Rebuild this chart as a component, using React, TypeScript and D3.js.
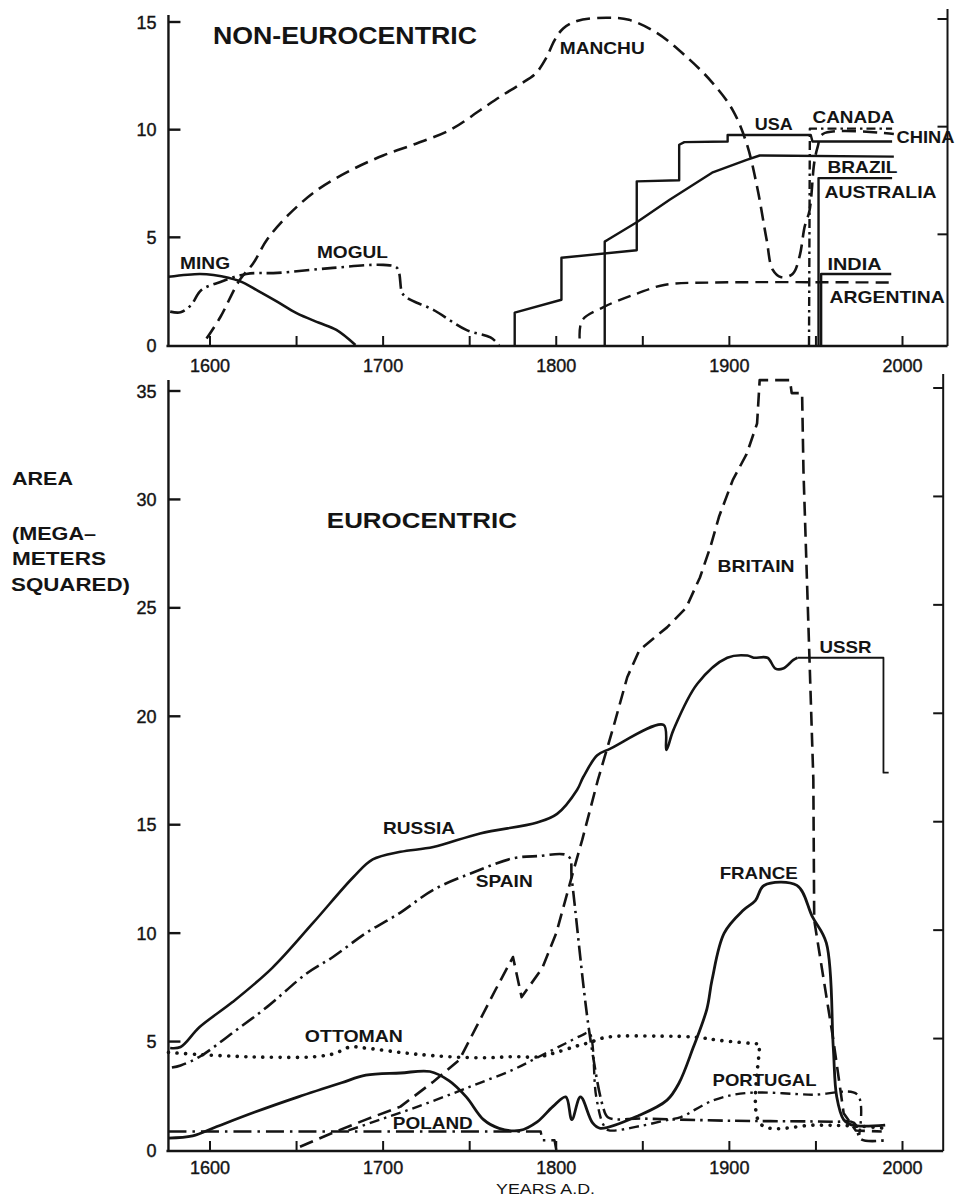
import * as d3 from 'd3';

type Pt = [number, number];

// ---------- upper panel: non-eurocentric empires (Mm²) ----------
const ming: Pt[] = [[1576, 3.17], [1594, 3.3], [1602, 3.25], [1617, 2.97], [1628, 2.5], [1639, 2.0], [1650, 1.48], [1663, 1.03], [1673, 0.7], [1684, 0]];
const mogul: Pt[] = [[1577, 1.55], [1583, 1.52], [1589, 1.85], [1595, 2.55], [1606, 2.93], [1621, 3.3], [1639, 3.35], [1671, 3.58], [1700, 3.72], [1708, 3.58], [1711, 2.42], [1714, 2.18], [1729, 1.63], [1748, 0.7], [1762, 0.35], [1767, 0]];
const manchuChina: Pt[] = [[1598, 0.3], [1606, 1.3], [1617, 3.0], [1625, 3.8], [1633, 4.9], [1646, 6.1], [1662, 7.2], [1681, 8.1], [1700, 8.8], [1719, 9.35], [1739, 10.0], [1756, 10.9], [1767, 11.5], [1779, 12.1], [1788, 12.6], [1794, 13.3], [1799, 14.15], [1804, 14.7], [1812, 15.05], [1829, 15.2], [1842, 15.1], [1858, 14.5], [1875, 13.4], [1890, 12.2], [1902, 10.9], [1910, 9.35], [1916, 7.35], [1921.5, 4.9], [1925, 3.5], [1930, 3.15], [1936.5, 3.3], [1940.5, 4.1], [1943.5, 5.5], [1946.3, 6.25], [1949, 8.45], [1951, 9.2], [1954, 9.8], [1995, 9.8]];
const usa: Pt[] = [[1776, 0], [1776, 1.5], [1803, 2.1], [1803, 4.05], [1846.5, 4.4], [1846.5, 7.6], [1871, 7.65], [1871, 9.3], [1874, 9.42], [1899, 9.45], [1899, 9.75], [1947, 9.75], [1948, 9.45], [1994, 9.45]];
const brazil: Pt[] = [[1828, 0], [1828, 4.8], [1830, 4.9], [1846.5, 5.7], [1865.5, 6.75], [1890, 8.0], [1910, 8.6], [1917.5, 8.8], [1995, 8.75]];
const canada: Pt[] = [[1946, 0], [1946.5, 10.05], [1994, 10.05]];
const australia: Pt[] = [[1951.5, 0], [1951.5, 7.75], [1994, 7.75]];
const india: Pt[] = [[1953, 0], [1953, 3.3], [1993.5, 3.3]];
const argentina: Pt[] = [[1813.5, 0.3], [1815, 1.15], [1827, 1.75], [1847, 2.4], [1863, 2.8], [1890, 2.9], [1993.5, 2.9]];

// ---------- lower panel: eurocentric empires (Mm²) ----------
const russia: Pt[] = [[1577, 4.7], [1583, 4.75], [1594, 5.67], [1613, 6.82], [1636, 8.4], [1659.5, 10.47], [1683, 12.6], [1694, 13.4], [1710, 13.75], [1729, 13.97], [1756, 14.6], [1789, 15.1], [1800.5, 15.5], [1812, 16.6], [1815.6, 17.2], [1823.7, 18.2], [1831, 18.5], [1862, 19.6], [1863.6, 18.45], [1867.6, 19.35], [1881.5, 21.5], [1898.8, 22.7], [1910.4, 22.8], [1914, 22.7], [1922, 22.7], [1926.6, 22.2], [1931, 22.2], [1937, 22.6], [1939.3, 22.7]];
const ussr: Pt[] = [[1939.3, 22.7], [1989, 22.7], [1989, 17.4], [1992, 17.4]];
const britain: Pt[] = [[1652, 0.15], [1671, 0.8], [1690, 1.4], [1710, 2.0], [1729, 3.15], [1744, 4.15], [1754, 5.7], [1765, 7.4], [1775, 8.9], [1780, 7.05], [1792, 8.4], [1800, 10.0], [1810, 12.9], [1815, 14.3], [1824, 17.05], [1833, 19.5], [1841, 21.8], [1848, 23.05], [1864, 24.1], [1875, 25.0], [1883, 26.4], [1889, 27.8], [1894, 29.2], [1902, 30.9], [1910, 32.1], [1916, 33.5], [1917.5, 35.5], [1935, 35.5], [1936, 34.9], [1942, 34.9], [1942.8, 31.3], [1948.5, 17.1], [1949, 10.6], [1960, 5.1], [1966, 1.7], [1973, 0.9], [1988, 0.85]];
const spain: Pt[] = [[1578, 3.8], [1583, 3.9], [1594, 4.3], [1613, 5.4], [1633, 6.6], [1656, 8.15], [1671, 8.9], [1690, 10.0], [1710, 10.95], [1729, 12.0], [1752, 12.8], [1775, 13.45], [1789, 13.55], [1807, 13.55], [1809, 12.45], [1819, 5.5], [1827, 2.0], [1830, 1.5], [1850, 1.45], [1900, 1.35], [1960, 1.3], [1972, 1.25], [1976, 0.5], [1990, 0.45]];
const ottoman: Pt[] = [[1576, 4.5], [1594, 4.4], [1615, 4.32], [1633, 4.28], [1660, 4.3], [1672, 4.45], [1681, 4.75], [1690, 4.7], [1710, 4.5], [1729, 4.35], [1756, 4.25], [1775, 4.3], [1790, 4.3], [1800, 4.5], [1812, 4.8], [1819, 4.95], [1829, 5.2], [1860, 5.25], [1881, 5.2], [1895, 5.05], [1916, 4.9], [1917, 4.9], [1918, 1.2], [1950, 1.15], [1975, 1.1], [1990, 1.0]];
const france: Pt[] = [[1576, 0.55], [1590, 0.65], [1603, 1.05], [1626, 1.75], [1651, 2.45], [1676, 3.1], [1690, 3.45], [1710, 3.55], [1727, 3.62], [1738, 3.2], [1748, 2.45], [1758, 1.4], [1767, 1.0], [1779, 0.9], [1789, 1.3], [1798, 2.0], [1805.5, 2.45], [1809, 1.4], [1814, 2.45], [1821, 1.25], [1825.5, 1.0], [1848, 1.6], [1864, 2.3], [1871, 3.1], [1879, 4.7], [1887, 6.5], [1890, 7.85], [1897, 10.0], [1908, 11.05], [1915, 11.5], [1920, 12.2], [1939, 12.2], [1948, 10.75], [1956, 9.55], [1960, 4.75], [1962, 2.45], [1966, 1.4], [1971, 1.15], [1990, 1.15]];
const poland: Pt[] = [[1576, 0.85], [1791, 0.85], [1792, 0.45], [1799, 0.45], [1800, 0]];
const portugal: Pt[] = [[1680, 0.9], [1700, 1.45], [1720, 2.0], [1740, 2.6], [1756, 3.1], [1775, 3.7], [1790, 4.3], [1805, 4.9], [1815, 5.3], [1819, 5.4], [1823, 2.5], [1827, 1.2], [1830, 0.92], [1848, 1.1], [1865, 1.4], [1872, 1.52], [1891, 2.3], [1910, 2.63], [1948, 2.55], [1974, 2.55], [1975, 0.7]];

const topYTicks = [0, 5, 10, 15];
const botYTicks = [0, 5, 10, 15, 20, 25, 30, 35];
const yearTicks = [1600, 1650, 1700, 1750, 1800, 1850, 1900, 1950, 2000];
const yearLabels = [1600, 1700, 1800, 1900, 2000];

const x = d3.scaleLinear().domain([1600, 2000]).range([210, 902.5]);
const yTop = d3.scaleLinear().domain([0, 15]).range([345, 22]);
const yBot = d3.scaleLinear().domain([0, 35]).range([1150, 391]);

const smooth = d3.curveCatmullRom.alpha(0.5);
const straight = d3.curveLinear;

const DASHED = '14 7';
const DASHDOT = '15 5 2.5 5';
const DOTTED = '0.1 8.5';

const topSeries = [
  { data: ming, dash: undefined, curve: smooth, w: 2.6 },
  { data: mogul, dash: DASHDOT, curve: smooth, w: 2.6 },
  { data: manchuChina, dash: DASHED, curve: smooth, w: 2.6 },
  { data: usa, dash: undefined, curve: straight, w: 2.4 },
  { data: brazil, dash: undefined, curve: straight, w: 2.4 },
  { data: canada, dash: '9 4 2.5 4', curve: straight, w: 2.4 },
  { data: australia, dash: undefined, curve: straight, w: 2.4 },
  { data: india, dash: undefined, curve: straight, w: 2.4 },
  { data: argentina, dash: '13 7', curve: smooth, w: 2.4 },
];

const botSeries = [
  { data: russia, dash: undefined, curve: smooth, w: 2.6 },
  { data: ussr, dash: undefined, curve: straight, w: 1.8 },
  { data: britain, dash: DASHED, curve: straight, w: 2.6 },
  { data: spain, dash: DASHDOT, curve: smooth, w: 2.6 },
  { data: ottoman, dash: DOTTED, curve: smooth, w: 3.6 },
  { data: france, dash: undefined, curve: smooth, w: 2.8 },
  { data: poland, dash: '18 6 2.5 6', curve: straight, w: 2.4 },
  { data: portugal, dash: '10 5 2.5 5', curve: smooth, w: 2.4 },
];

// name, anchor [year, value], fitted width
const topNotes: [string, number, number, number][] = [
  ['MANCHU', 1802, 13.5, 85],
  ['USA', 1914.6, 10.0, 38],
  ['CANADA', 1948, 10.3, 82],
  ['CHINA', 1996.5, 9.4, 58],
  ['BRAZIL', 1956.7, 8.0, 70],
  ['AUSTRALIA', 1955, 6.83, 112],
  ['INDIA', 1956.7, 3.48, 54],
  ['ARGENTINA', 1957.9, 1.95, 115],
  ['MING', 1582.7, 3.53, 50],
  ['MOGUL', 1661.8, 4.04, 71],
];
const botNotes: [string, number, number, number][] = [
  ['BRITAIN', 1893.2, 26.65, 77],
  ['USSR', 1952.1, 22.92, 52],
  ['RUSSIA', 1699.9, 14.57, 72],
  ['SPAIN', 1753.5, 12.13, 57],
  ['OTTOMAN', 1654.8, 4.98, 98],
  ['POLAND', 1705.6, 0.97, 80],
  ['FRANCE', 1894.4, 12.5, 78],
  ['PORTUGAL', 1890.3, 2.95, 104],
];

const FONT = '"Liberation Sans", Arial, Helvetica, sans-serif';
const INK = '#141414';

function linePath(data: Pt[], y: d3.ScaleLinear<number, number>, curve: d3.CurveFactory) {
  return d3.line<Pt>().x(d => x(d[0])).y(d => y(d[1])).curve(curve)(data) ?? '';
}

function Frame({ y, top, left, right, labelY }: {
  y: d3.ScaleLinear<number, number>; top: number; left: number; right: number; labelY: number;
}) {
  const ticks = y === yTop ? topYTicks : botYTicks;
  const base = y(0);
  return (
    <g stroke={INK} fill="none">
      <line x1={x(left)} x2={x(left)} y1={top} y2={base + 1} strokeWidth={2.4} />
      <line x1={x(left) - 2} x2={x(right)} y1={base + 1} y2={base + 1} strokeWidth={2.4} />
      <line x1={x(right)} x2={x(right)} y1={top - 6} y2={base + 1} strokeWidth={2} />
      {ticks.filter(t => t > 0).map(t => (
        <g key={t}>
          <line x1={x(left)} x2={x(left) + 12} y1={y(t)} y2={y(t)} strokeWidth={2.4} />
          <line x1={x(right)} x2={x(right) - 10} y1={y(t) - 3} y2={y(t) - 3} strokeWidth={2} />
        </g>
      ))}
      {yearTicks.map(t => (
        <line key={t} x1={x(t)} x2={x(t)} y1={base + 1} y2={base - 9} strokeWidth={2} />
      ))}
      <g stroke={INK} strokeWidth={0.4} fill={INK} fontFamily={FONT} fontSize={18}>
        {ticks.map(t => (
          <text key={t} x={x(left) - 12} y={y(t) + 6.5} textAnchor="end">{t}</text>
        ))}
        {yearLabels.map(t => (
          <text key={t} x={x(t)} y={labelY} textAnchor="middle">{t}</text>
        ))}
      </g>
    </g>
  );
}

function Note({ text, px, py, len, size = 17 }: { text: string; px: number; py: number; len: number; size?: number }) {
  return (
    <text x={px} y={py} textLength={len} lengthAdjust="spacingAndGlyphs"
      fontFamily={FONT} fontWeight="bold" fontSize={size} fill={INK}>{text}</text>
  );
}

export default function App() {
  return (
    <svg width={956} height={1197} viewBox="0 0 956 1197"
      style={{ position: 'absolute', left: 0, top: 0, background: '#fff' }}>
      <rect width={956} height={1197} fill="#fff" />

      {/* upper panel */}
      <Frame y={yTop} top={15} left={1576} right={2026} labelY={372} />
      <g fill="none" stroke={INK} strokeLinejoin="round">
        {topSeries.map((s, i) => (
          <path key={i} d={linePath(s.data, yTop, s.curve)} strokeWidth={s.w}
            strokeDasharray={s.dash} strokeLinecap={s.dash === DOTTED ? 'round' : 'butt'} />
        ))}
      </g>
      <Note text="NON-EUROCENTRIC" px={x(1601.7)} py={yTop(13.98)} len={264} size={23} />
      {topNotes.map(([t, yr, v, len]) => (
        <Note key={t} text={t} px={x(yr)} py={yTop(v)} len={len} />
      ))}

      {/* lower panel */}
      <Frame y={yBot} top={380} left={1576} right={2023.5} labelY={1174} />
      <g fill="none" stroke={INK} strokeLinejoin="round">
        {botSeries.map((s, i) => (
          <path key={i} d={linePath(s.data, yBot, s.curve)} strokeWidth={s.w}
            strokeDasharray={s.dash} strokeLinecap={s.dash === DOTTED ? 'round' : 'butt'} />
        ))}
      </g>
      <Note text="EUROCENTRIC" px={x(1667.5)} py={yBot(28.68)} len={190} size={22} />
      {botNotes.map(([t, yr, v, len]) => (
        <Note key={t} text={t} px={x(yr)} py={yBot(v)} len={len} />
      ))}

      {/* axis titles */}
      <Note text="AREA" px={12} py={485} len={61} size={18} />
      <Note text="(MEGA–" px={12} py={540} len={84} size={18} />
      <Note text="METERS" px={12} py={565} len={94} size={18} />
      <Note text="SQUARED)" px={11} py={591} len={119} size={18} />
      <text x={496} y={1194} textLength={99} lengthAdjust="spacingAndGlyphs"
        fontFamily={FONT} fontSize={14} fill={INK}>YEARS A.D.</text>
    </svg>
  );
}
